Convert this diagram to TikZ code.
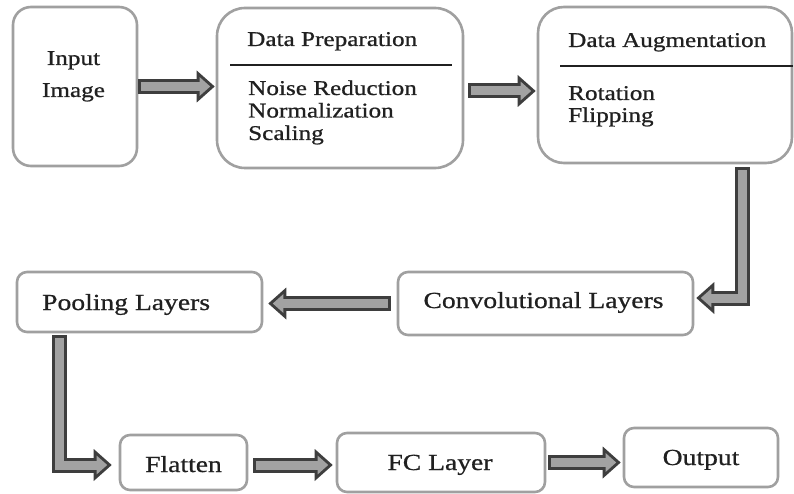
\documentclass[tikz,border=0pt]{standalone}
\usepackage{fontspec}
\setmainfont{Liberation Serif}[FakeStretch=1.2,FakeBold=0.8]
\usetikzlibrary{arrows.meta,calc}
\definecolor{boxline}{HTML}{A0A0A0}
\definecolor{arrline}{HTML}{3E3E3E}
\definecolor{arrbody}{HTML}{A2A2A2}
\definecolor{ink}{HTML}{202020}

% block arrow: dark outline pass, then lighter body pass on the same path
\newcommand\flowarrow[1]{\draw[arrouter] #1; \draw[arrinner] #1;}

\begin{document}
\begin{tikzpicture}[x=1pt,y=-1pt,
  box/.style={draw=boxline, line width=2.6pt, fill=white, inner sep=0pt},
  txt/.style={text=ink, inner sep=0pt, font=\fontsize{21}{24}\selectfont},
  bigtxt/.style={text=ink, inner sep=0pt, font=\fontsize{23}{26}\selectfont},
  arrouter/.style={draw=arrline, line width=15pt,
    -{Triangle[length=18pt,width=32pt,line width=0pt]}},
  arrinner/.style={draw=arrbody, line width=9pt, shorten <=3pt, shorten >=4.5pt,
    -{Triangle[length=10.5pt,width=18.7pt,line width=0pt]}},
  divider/.style={draw=ink, line width=1.4pt}]

\path[fill=white] (0,0) rectangle (794,494);
\useasboundingbox (0,0) rectangle (794,494);

% top row
\node[box, minimum width=124pt, minimum height=159pt, rounded corners=18pt] (input) at (75,86.5) {};
\node[box, minimum width=246pt, minimum height=160pt, rounded corners=28pt] (prep) at (340,88) {};
\node[box, minimum width=254pt, minimum height=156pt, rounded corners=26pt] (aug) at (665,85) {};

% middle row
\node[box, minimum width=245pt, minimum height=60pt, rounded corners=10pt] (pool) at (139.5,302) {};
\node[box, minimum width=295pt, minimum height=63pt, rounded corners=10pt] (conv) at (545.5,303.5) {};

% bottom row
\node[box, minimum width=127pt, minimum height=55pt, rounded corners=10pt] (flat) at (183.5,462.5) {};
\node[box, minimum width=208pt, minimum height=59pt, rounded corners=10pt] (fc) at (441,462.5) {};
\node[box, minimum width=154pt, minimum height=59pt, rounded corners=10pt] (out) at (701,457.5) {};

% dividers under the box titles
\draw[divider] (230,65) -- (452,65);
\draw[divider] (560,66) -- (793,66);

% texts
\node[txt, anchor=base] (tinput) at (73.5,65) {Input};
\node[txt, anchor=base] (timage) at (73.5,97) {Image};
\node[txt, anchor=base west] (tprep) at (247,46) {Data Preparation};
\node[txt, anchor=base west] (tnoise) at (248,95) {Noise Reduction};
\node[txt, anchor=base west] (tnorm) at (248,117.5) {Normalization};
\node[txt, anchor=base west] (tscale) at (248,140) {Scaling};
\node[txt, anchor=base west] (taug) at (568,47) {Data Augmentation};
\node[txt, anchor=base west] (trot) at (568,100) {Rotation};
\node[txt, anchor=base west] (tflip) at (568,122) {Flipping};
\node[bigtxt, anchor=base west] (tpool) at (42,310) {Pooling Layers};
\node[bigtxt, anchor=base] (tconv) at (543.5,308) {Convolutional Layers};
\node[bigtxt, anchor=base] (tflat) at (183.5,472) {Flatten};
\node[bigtxt, anchor=base] (tfc) at (440,470) {FC Layer};
\node[bigtxt, anchor=base] (tout) at (701,465) {Output};

% connectors
\flowarrow{(input.east) -- ($(input.east -| prep.west)+(-1,0)$)}
\flowarrow{($(prep.east)+(4,3)$) -- ($(prep.east -| aug.west)+(-1,3)$)}
\flowarrow{($(aug.south)+(77,3)$) |- ($(conv.east)+(2,-5.5)$)}
\flowarrow{($(conv.west)+(-6,0)$) -- ($(conv.west -| pool.east)+(5,0)$)}
\flowarrow{($(pool.south)+(-80,2)$) |- ($(flat.west)+(-7,2.5)$)}
\flowarrow{($(flat.east)+(5,2.5)$) -- ($(flat.east -| fc.west)+(-3,2.5)$)}
\flowarrow{($(fc.east)+(2,0)$) -- ($(fc.east -| out.west)+(-2,0)$)}
\end{tikzpicture}
\end{document}
